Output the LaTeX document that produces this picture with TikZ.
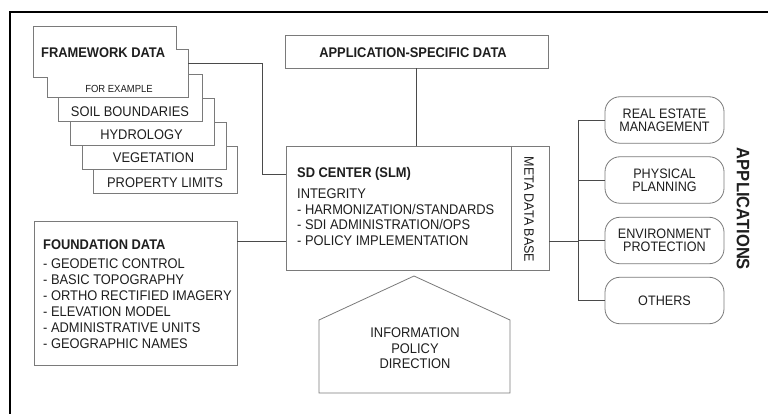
\documentclass[tikz,border=0pt]{standalone}
\usepackage{fontspec}
\setmainfont{Liberation Sans}[FakeStretch=0.92]
\usetikzlibrary{calc}
\definecolor{ink}{HTML}{1E1E1E}
\definecolor{boxgray}{HTML}{7A7A7A}
\definecolor{linegray}{HTML}{4A4A4A}
\tikzset{
  box/.style={draw=boxgray, line width=0.8pt, fill=white},
  card/.style={box, anchor=north west, minimum width=144pt, minimum height=47.5pt, inner sep=0},
  pill/.style={box, rounded corners=15pt, minimum width=119pt, minimum height=46.5pt, inner sep=0,
    align=center, text=ink, font=\fontsize{13.7}{13}\selectfont},
  conn/.style={draw=linegray, line width=0.9pt},
  lbl/.style={text=ink, inner sep=0, font=\fontsize{14}{15.5}\selectfont},
  ttl/.style={text=ink, inner sep=0, font=\fontsize{14}{15.5}\selectfont\bfseries},
}
\begin{document}
\begin{tikzpicture}[x=1pt, y=-1pt]
\useasboundingbox (0,0) rectangle (768,414);
% frame (top and left edges only)
\draw[line width=2pt, black] (768,12) -- (10,12) -- (10,414);

% stacked framework cards, back to front
\node[card] (prop) at (93,146) {};
\node[lbl] at (165,183) {PROPERTY LIMITS};
\node[card] (veg) at (82,122) {};
\node[lbl] at (153.5,158) {VEGETATION};
\node[card] (hyd) at (70,98) {};
\node[lbl] at (141.5,135) {HYDROLOGY};
\node[card] (soil) at (58,74) {};
\node[lbl] at (130,112) {SOIL BOUNDARIES};

% framework data sheet
\draw[box] (33,26) -- (176,26) -- (176,49) -- (188,49) -- (188,97) -- (47,97)
  -- (47,77) -- (33,77) -- cycle;
\node[ttl, anchor=west] (fwt) at (41,53) {FRAMEWORK DATA};
\node[lbl, font=\fontsize{10.3}{11}\selectfont] (fwex) at (119,89) {FOR EXAMPLE};
\coordinate (fwout) at (188,63);
\coordinate (fwbend) at (262,174);

% application-specific data
\node[box, minimum width=263pt, minimum height=33pt, inner sep=0] (asd) at (416.5,51.5) {};
\node[ttl] at (413,53) {APPLICATION-SPECIFIC DATA};

% SD center
\node[box, minimum width=263pt, minimum height=124pt, inner sep=0] (sd) at (417.5,208) {};
\draw[boxgray, line width=0.8pt] (511,146) -- (511,270);
\node[ttl, anchor=west] (sdt) at (297,174) {SD CENTER (SLM)};
\node[lbl, anchor=north west, align=left] (sdb) at (297,189)
  {INTEGRITY\\- HARMONIZATION/STANDARDS\\- SDI ADMINISTRATION/OPS\\- POLICY IMPLEMENTATION};
\node[lbl, rotate=-90, font=\fontsize{13.6}{14}\selectfont] (meta) at (529,209.5) {META DATA BASE};

% foundation data
\node[box, anchor=north west, minimum width=203pt, minimum height=144pt, inner sep=0] (fnd) at (34,221) {};
\node[ttl, anchor=west] (fndt) at (43,245) {FOUNDATION DATA};
\node[lbl, anchor=north west, align=left, font=\fontsize{14}{16}\selectfont] (fndb) at (43,259)
  {- GEODETIC CONTROL\\- BASIC TOPOGRAPHY\\- ORTHO RECTIFIED IMAGERY\\- ELEVATION MODEL\\- ADMINISTRATIVE UNITS\\- GEOGRAPHIC NAMES};
\coordinate (fndout) at (237,241);

% information policy direction
\draw[box] (319,393) -- (319,320) -- (414,276) -- (510,320) -- (510,393) -- cycle;
\node[lbl, align=center] (ipd) at (415,348.5) {INFORMATION\\POLICY\\DIRECTION};

% applications
\node[pill] (re)  at (664.5,120)   {REAL ESTATE\\MANAGEMENT};
\node[pill] (pp)  at (664.5,180)   {PHYSICAL\\PLANNING};
\node[pill] (ep)  at (664.5,240.5) {ENVIRONMENT\\PROTECTION};
\node[pill] (oth) at (664.5,300.5) {OTHERS};
\node[ttl, rotate=-90, font=\fontsize{18}{19}\selectfont\bfseries] (apps) at (743,209) {APPLICATIONS};
\coordinate (bus) at (578,241);

% connectors
\draw[conn] (fwout) -| (fwbend) -- (fwbend -| sd.west);
\draw[conn] (asd.south) -- (asd.south |- sd.north);
\draw[conn] (fndout) -- (fndout -| sd.west);
\draw[conn] (fndout -| sd.east) -- (bus);
\draw[conn] (re.west -| bus) -- (oth.west -| bus);
\foreach \a in {re,pp,ep,oth} \draw[conn] (\a.west -| bus) -- (\a.west);
\end{tikzpicture}
\end{document}
